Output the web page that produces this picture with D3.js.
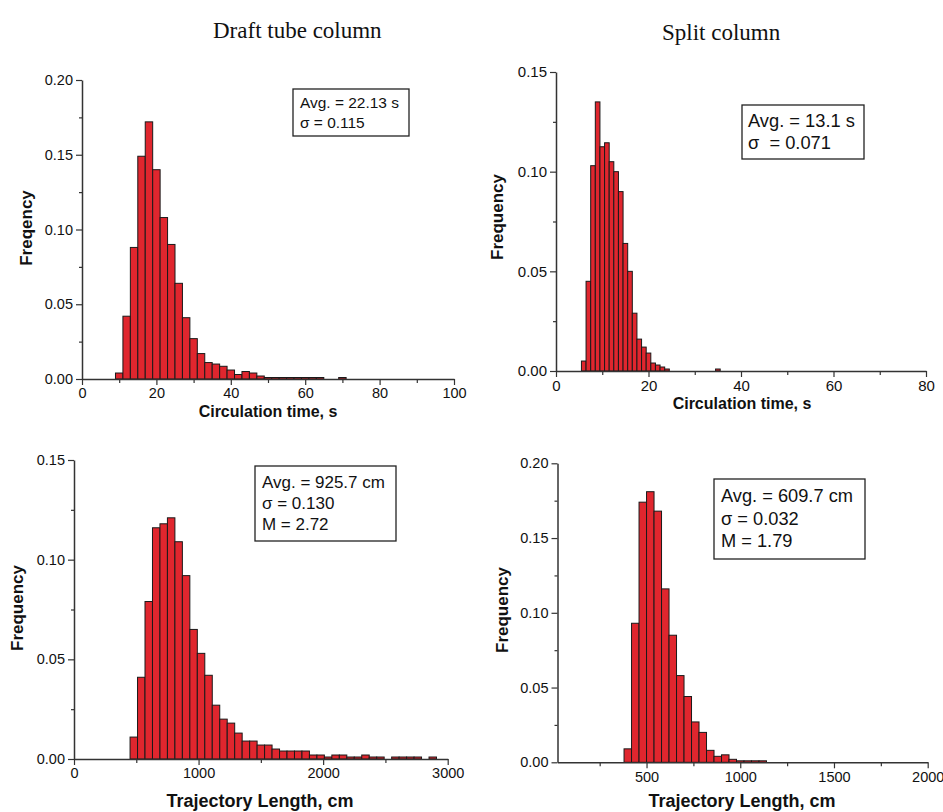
<!DOCTYPE html>
<html>
<head>
<meta charset="utf-8">
<script src="https://cdn.jsdelivr.net/npm/d3@7"></script>
<style>
  html, body { margin: 0; padding: 0; background: #fff; }
  svg { display: block; }
</style>
</head>
<body>
<svg id="chart" width="943" height="812" font-family="Liberation Sans, Arial, sans-serif"></svg>
<script>
// ---------- DATA ----------
const columnTitles = ["Draft tube column", "Split column"];

// Panel A: Draft tube column, circulation time (bin width 2 s)
const circDraftBins = [10,12,14,16,18,20,22,24,26,28,30,32,34,36,38,40,42,44,46,48,50,52,54,56,58,60,62,64,70];
const circDraftFreq = [0.004,0.042,0.088,0.149,0.172,0.140,0.108,0.090,0.064,0.041,0.027,0.017,0.011,0.010,0.0085,0.006,0.003,0.005,0.004,0.002,0.001,0.001,0.001,0.001,0.001,0.001,0.001,0.001,0.001];
const circDraftXTicks = [0,20,40,60,80,100];
const circDraftXMinor = [10,30,50,70,90];
const circDraftYTicks = [0.00,0.05,0.10,0.15,0.20];
const circDraftYMinor = [0.025,0.075,0.125,0.175];
const circDraftStats = ["Avg. = 22.13 s", "σ = 0.115"];

// Panel B: Split column, circulation time (bin width 1 s)
const circSplitBins = [6,7,8,9,10,11,12,13,14,15,16,17,18,19,20,21,22,23,24,35];
const circSplitFreq = [0.005,0.045,0.103,0.135,0.1125,0.1145,0.105,0.100,0.090,0.064,0.050,0.029,0.016,0.012,0.009,0.004,0.003,0.002,0.001,0.001];
const circSplitXTicks = [0,20,40,60,80];
const circSplitXMinor = [10,30,50,70];
const circSplitYTicks = [0.00,0.05,0.10,0.15];
const circSplitYMinor = [0.025,0.075,0.125];
const circSplitStats = ["Avg. = 13.1 s", "σ  = 0.071"];

// Panel C: Draft tube column, trajectory length (bin width 60 cm)
const trajDraftBins = [480,540,600,660,720,780,840,900,960,1020,1080,1140,1200,1260,1320,1380,1440,1500,1560,1620,1680,1740,1800,1860,1920,1980,2040,2100,2160,2220,2280,2340,2400,2460,2580,2640,2700,2760,2880];
const trajDraftFreq = [0.011,0.041,0.079,0.116,0.118,0.121,0.109,0.092,0.065,0.053,0.042,0.027,0.020,0.018,0.013,0.009,0.009,0.007,0.007,0.005,0.004,0.004,0.004,0.004,0.002,0.002,0.001,0.002,0.002,0.001,0.001,0.002,0.001,0.001,0.001,0.001,0.001,0.001,0.001];
const trajDraftXTicks = [0,1000,2000,3000];
const trajDraftXMinor = [500,1500,2500];
const trajDraftYTicks = [0.00,0.05,0.10,0.15];
const trajDraftYMinor = [0.025,0.075,0.125];
const trajDraftStats = ["Avg. = 925.7 cm", "σ = 0.130", "M = 2.72"];

// Panel D: Split column, trajectory length (bin width 40 cm)
const trajSplitBins = [400,440,480,520,560,600,640,680,720,760,800,840,880,920,960,1000,1040,1080,1120];
const trajSplitFreq = [0.009,0.093,0.174,0.181,0.168,0.116,0.085,0.058,0.044,0.027,0.020,0.008,0.004,0.005,0.002,0.001,0.001,0.001,0.001];
const trajSplitXTicks = [500,1000,1500,2000];
const trajSplitXMinor = [250,750,1250,1750];
const trajSplitYTicks = [0.00,0.05,0.10,0.15,0.20];
const trajSplitYMinor = [0.025,0.075,0.125,0.175];
const trajSplitStats = ["Avg. = 609.7 cm", "σ = 0.032", "M = 1.79"];

const xTitles = ["Circulation time, s", "Trajectory Length, cm"];
const yTitles = ["Freqency", "Frequency"];

// ---------- LAYOUT / STYLE ----------
const svg = d3.select("#chart");
const BAR_FILL = "#e0262e";
const AXIS_COL = "#333";
const SANS = "'Liberation Sans', Arial, sans-serif";
const SERIF = "'Liberation Serif', 'Times New Roman', serif";

// scale a text's font so that its first line spans a target width
function fitFont(sel, baseSize, target) {
  const w = sel.node().getComputedTextLength();
  if (!w) return baseSize;
  const fs = Math.max(8, Math.min(30, baseSize * target / w));
  sel.style("font-size", fs + "px");
  return fs;
}

const panels = [
  { bins: circDraftBins, freq: circDraftFreq, binW: 2, xDom: [0,100], yDom: [0,0.2],
    xr: [82,454], yr: [379,80], xTicks: circDraftXTicks, xMinor: circDraftXMinor,
    yTicks: circDraftYTicks, yMinor: circDraftYMinor, stats: circDraftStats,
    box: {x:293, y:89, w:116, h:47, tx:300, lh:19.5, fs:16, b0:108, tw:99},
    xTitle: xTitles[0], xtPos: [268,417], xtFs: 16,
    yTitle: yTitles[0], ytPos: [32,228], ytFs: 17, tickFs: 14.5 },
  { bins: circSplitBins, freq: circSplitFreq, binW: 1, xDom: [0,80], yDom: [0,0.15],
    xr: [556,926], yr: [371,72], xTicks: circSplitXTicks, xMinor: circSplitXMinor,
    yTicks: circSplitYTicks, yMinor: circSplitYMinor, stats: circSplitStats,
    box: {x:742, y:105, w:122, h:54, tx:748, lh:22, fs:18, b0:127, tw:107},
    xTitle: xTitles[0], xtPos: [742,409], xtFs: 16,
    yTitle: yTitles[1], ytPos: [503,217], ytFs: 17, tickFs: 15 },
  { bins: trajDraftBins, freq: trajDraftFreq, binW: 60, xDom: [0,3000], yDom: [0,0.15],
    xr: [74,447.7], yr: [759,460], xTicks: trajDraftXTicks, xMinor: trajDraftXMinor,
    yTicks: trajDraftYTicks, yMinor: trajDraftYMinor, stats: trajDraftStats,
    box: {x:255, y:466, w:141, h:75, tx:262, lh:21, fs:17, b0:488, tw:123},
    xTitle: xTitles[1], xtPos: [260,807], xtFs: 18,
    yTitle: yTitles[1], ytPos: [23,608], ytFs: 17, tickFs: 14.5 },
  { bins: trajSplitBins, freq: trajSplitFreq, binW: 40, xDom: [25,2000], yDom: [0,0.2],
    xr: [557.5,927.7], yr: [762.3,463.3], xTicks: trajSplitXTicks, xMinor: trajSplitXMinor,
    yTicks: trajSplitYTicks, yMinor: trajSplitYMinor, stats: trajSplitStats,
    box: {x:714, y:479, w:151, h:80, tx:721, lh:22.5, fs:18, b0:502, tw:132},
    xTitle: xTitles[1], xtPos: [742,807], xtFs: 18,
    yTitle: yTitles[1], ytPos: [508,610], ytFs: 17, tickFs: 14.5 }
];

function fmtY(d) { return d3.format(".2f")(d); }

panels.forEach(p => {
  const x = d3.scaleLinear().domain(p.xDom).range(p.xr);
  const y = d3.scaleLinear().domain(p.yDom).range(p.yr);
  const g = svg.append("g");

  // bars
  const data = p.bins.map((c, i) => ({ c, v: p.freq[i] }));
  g.append("g").selectAll("rect").data(data).join("rect")
    .attr("x", d => x(d.c - p.binW / 2))
    .attr("width", d => x(d.c + p.binW / 2) - x(d.c - p.binW / 2))
    .attr("y", d => y(d.v))
    .attr("height", d => y(0) - y(d.v))
    .attr("fill", BAR_FILL)
    .attr("stroke", "#1a1a1a")
    .attr("stroke-width", 1);

  // x axis minor
  const xMinorAxis = d3.axisBottom(x).tickValues(p.xMinor).tickSize(4).tickFormat("");
  g.append("g").attr("transform", `translate(0,${y(0)})`).call(xMinorAxis)
    .call(s => s.select(".domain").remove())
    .call(s => s.selectAll("line").attr("stroke", AXIS_COL).attr("stroke-width", 1.2));
  // x axis major
  const xAxis = d3.axisBottom(x).tickValues(p.xTicks).tickSize(6).tickSizeOuter(0).tickPadding(3).tickFormat(d3.format("d"));
  g.append("g").attr("transform", `translate(0,${y(0)})`).call(xAxis)
    .call(s => s.select(".domain").attr("stroke", AXIS_COL).attr("stroke-width", 1.5))
    .call(s => s.selectAll("line").attr("stroke", AXIS_COL).attr("stroke-width", 1.2))
    .call(s => s.selectAll("text").attr("fill", "#111").style("font-size", p.tickFs + "px")
      .style("font-family", SANS));

  // y axis minor
  const yMinorAxis = d3.axisLeft(y).tickValues(p.yMinor).tickSize(3).tickFormat("");
  g.append("g").attr("transform", `translate(${x(p.xDom[0])},0)`).call(yMinorAxis)
    .call(s => s.select(".domain").remove())
    .call(s => s.selectAll("line").attr("stroke", AXIS_COL).attr("stroke-width", 1.2));
  // y axis major
  const yAxis = d3.axisLeft(y).tickValues(p.yTicks).tickSize(6).tickSizeOuter(0).tickPadding(3).tickFormat(fmtY);
  g.append("g").attr("transform", `translate(${x(p.xDom[0])},0)`).call(yAxis)
    .call(s => s.select(".domain").attr("stroke", AXIS_COL).attr("stroke-width", 1.5))
    .call(s => s.selectAll("line").attr("stroke", AXIS_COL).attr("stroke-width", 1.2))
    .call(s => s.selectAll("text").attr("fill", "#111").style("font-size", p.tickFs + "px")
      .style("font-family", SANS));

  // axis titles
  g.append("text").attr("x", p.xtPos[0]).attr("y", p.xtPos[1])
    .attr("text-anchor", "middle").style("font-weight", "bold").style("font-family", SANS)
    .style("font-size", p.xtFs + "px").attr("fill", "#111").text(p.xTitle);
  g.append("text").attr("transform", `translate(${p.ytPos[0]},${p.ytPos[1]}) rotate(-90)`)
    .attr("text-anchor", "middle").style("font-weight", "bold").style("font-family", SANS)
    .style("font-size", p.ytFs + "px").attr("fill", "#111").text(p.yTitle);

  // stats box
  const b = p.box;
  g.append("rect").attr("x", b.x).attr("y", b.y).attr("width", b.w).attr("height", b.h)
    .attr("fill", "#fff").attr("stroke", "#222").attr("stroke-width", 1.3);
  const lines = p.stats.map((t, i) =>
    g.append("text").attr("x", b.tx).attr("y", b.b0 + i * b.lh)
      .style("font-size", b.fs + "px").style("font-family", SANS).attr("fill", "#111")
      .style("white-space", "pre").text(t));
  const fs = fitFont(lines[0], b.fs, b.tw);
  lines.forEach(l => l.style("font-size", fs + "px"));
});

// column titles
svg.append("text").attr("x", 213).attr("y", 38)
  .style("font-family", SERIF).style("font-size", "23px").attr("fill", "#111").text(columnTitles[0]);
svg.append("text").attr("x", 662).attr("y", 40)
  .style("font-family", SERIF).style("font-size", "23px").attr("fill", "#111").text(columnTitles[1]);
</script>
</body>
</html>
